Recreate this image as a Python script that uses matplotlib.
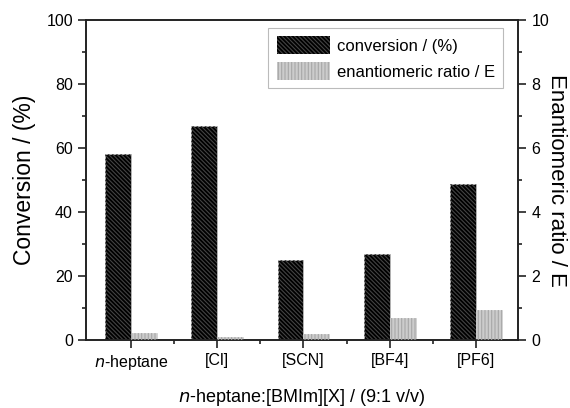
import matplotlib
matplotlib.use("Agg")
import matplotlib.pyplot as plt
import numpy as np
from matplotlib.ticker import MultipleLocator, FixedLocator
from matplotlib.patches import Patch

plt.rcParams['font.family'] = ['Liberation Sans', 'DejaVu Sans']
plt.rcParams['hatch.linewidth'] = 0.8

categories = ["n-heptane", "[Cl]", "[SCN]", "[BF4]", "[PF6]"]
conversion = [58.1, 66.9, 25.0, 26.9, 48.8]
enantio_ratio = [0.23, 0.09, 0.19, 0.70, 0.93]

fig = plt.figure(figsize=(5.7, 4.08), dpi=100)
ax = fig.add_axes([0.151, 0.1667, 0.758, 0.7843])
ax2 = ax.twinx()

x = np.arange(len(categories))
w = 0.3
hatch_conv = '\\' * 8
hatch_er = '|' * 5

# conversion bars: black with dark grey diagonal hatch
ax.bar(x - w / 2, conversion, w, color='black', edgecolor='#bbbbbb', linewidth=0.6, zorder=2)
ax.bar(x - w / 2, conversion, w, facecolor='none', edgecolor='#444444', hatch=hatch_conv, linewidth=0, zorder=3)

# enantiomeric ratio bars: light grey with vertical hatch
ax2.bar(x + w / 2, enantio_ratio, w, color='#cccccc', edgecolor='#cccccc', linewidth=0.5, zorder=2)
ax2.bar(x + w / 2, enantio_ratio, w, facecolor='none', edgecolor='#a8a8a8', hatch=hatch_er, linewidth=0, zorder=3)

ax.set_xlim(-0.52, 4.49)
ax.set_ylim(0, 100)
ax2.set_ylim(0, 10)

ax.yaxis.set_major_locator(MultipleLocator(20))
ax.yaxis.set_minor_locator(MultipleLocator(10))
ax2.yaxis.set_major_locator(MultipleLocator(2))
ax2.yaxis.set_minor_locator(MultipleLocator(1))
ax.xaxis.set_major_locator(FixedLocator(x))
ax.xaxis.set_minor_locator(FixedLocator(x[:-1] + 0.5))

labels = [r"$\it{n}$-heptane"] + categories[1:]
ax.set_xticklabels(labels)

for a in (ax, ax2):
    for s in a.spines.values():
        s.set_linewidth(1.2)
        s.set_color('#222222')
    a.tick_params(which='major', direction='out', length=6, width=1.2, labelsize=11.5, color='#222222')
    a.tick_params(which='minor', direction='out', length=3, width=1.2, color='#222222')

ax.set_ylabel("Conversion / (%)", fontsize=16.5)
ax.yaxis.set_label_coords(-0.115, 0.5)
ax2.set_ylabel("Enantiomeric ratio / E", fontsize=16, rotation=-90)
ax2.yaxis.set_label_coords(1.088, 0.5)
ax2.yaxis.label.set_va('center')
ax.set_xlabel(r"$\it{n}$-heptane:[BMIm][X] / (9:1 v/v)", fontsize=13, labelpad=11)

h1 = Patch(facecolor='black', edgecolor='#444444', hatch=hatch_conv, linewidth=0)
h2 = Patch(facecolor='#cccccc', edgecolor='#a8a8a8', hatch=hatch_er, linewidth=0)
leg = ax2.legend([h1, h2], ["conversion / (%)", "enantiomeric ratio / E"], loc='upper right',
                 bbox_to_anchor=(0.965, 0.975), borderaxespad=0, fontsize=12, frameon=True,
                 fancybox=False, edgecolor='#aaaaaa', handlelength=3.2, handleheight=1.3,
                 borderpad=0.5, labelspacing=0.45, handletextpad=0.4)
leg.get_frame().set_linewidth(0.8)

fig.savefig("out.png", dpi=100)
